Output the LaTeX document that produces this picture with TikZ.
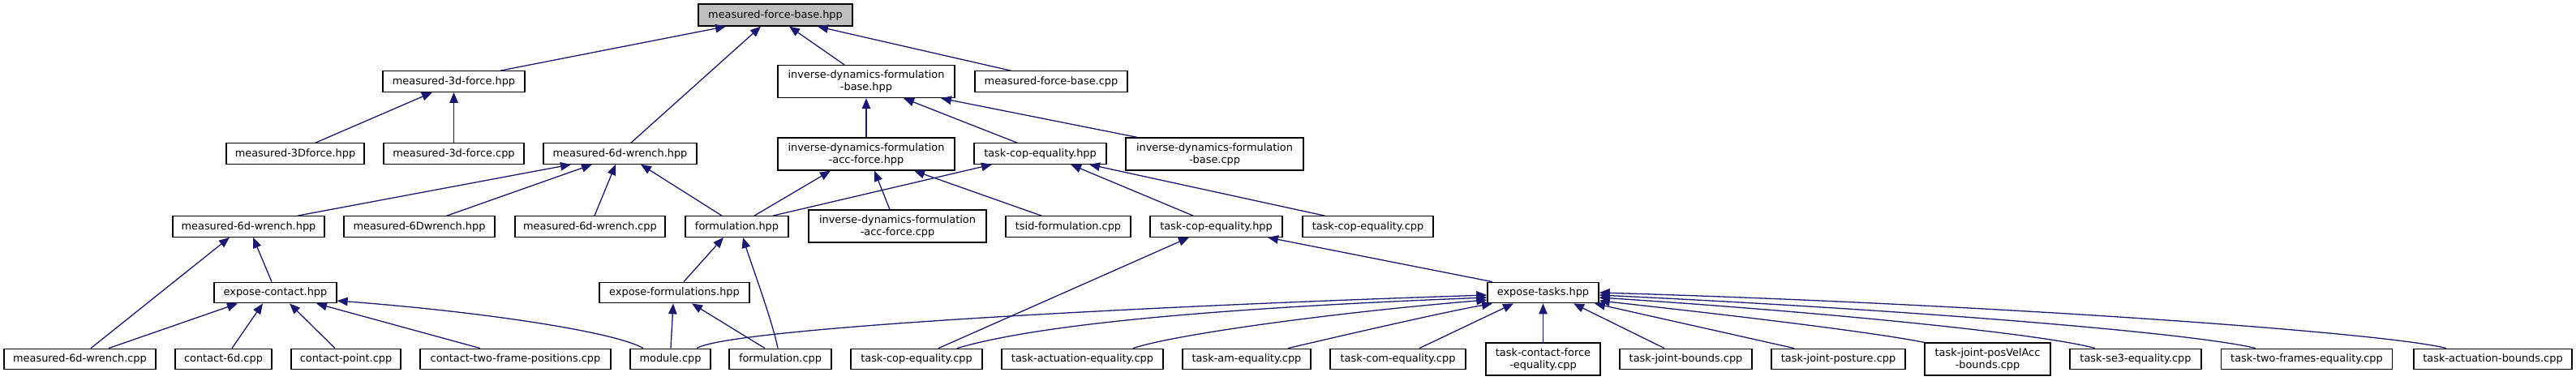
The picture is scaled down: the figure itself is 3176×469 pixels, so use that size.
\documentclass[tikz,border=0pt]{standalone}
\usepackage{fontspec}
\setmainfont{DejaVu Sans}
\usetikzlibrary{arrows.meta}
\definecolor{edgeblue}{HTML}{191970}
\definecolor{rootfill}{HTML}{BFBFBF}
\begin{document}
\begin{tikzpicture}[x=1pt,y=-1pt,
  filebox/.style={draw=black, line width=1.3pt, fill=white, rectangle, inner sep=0pt,
    align=center, minimum height=25.5pt, font=\fontsize{12.9}{15}\selectfont},
  twoline/.style={minimum height=40pt},
  rootbox/.style={filebox, fill=rootfill},
  edge/.style={draw=edgeblue, line width=1.3pt, -{Triangle[length=13pt,width=10.5pt]}}]
\useasboundingbox[fill=white] (0,0) rectangle (3176,469);
% row 1
\node[rootbox, minimum width=190pt, minimum height=27pt] (root) at (956,18.5) {measured-force-base.hpp};
% row 2
\node[filebox, minimum width=175pt] (m3fh) at (559.5,100.5) {measured-3d-force.hpp};
\node[filebox, twoline, minimum width=218pt] (idfbh) at (1068,100.5) {inverse-dynamics-formulation\\-base.hpp};
\node[filebox, minimum width=188pt] (mfbc) at (1296,100.5) {measured-force-base.cpp};
% row 3
\node[filebox, minimum width=170pt] (m3Dfh) at (364,189.5) {measured-3Dforce.hpp};
\node[filebox, minimum width=173pt] (m3fc) at (559.5,189.5) {measured-3d-force.cpp};
\node[filebox, minimum width=189pt] (m6wh) at (764.5,189.5) {measured-6d-wrench.hpp};
\node[filebox, twoline, minimum width=218pt] (idfah) at (1068,190) {inverse-dynamics-formulation\\-acc-force.hpp};
\node[filebox, minimum width=163pt] (tceh) at (1282.5,189.5) {task-cop-equality.hpp};
\node[filebox, twoline, minimum width=219pt] (idfbc) at (1497.5,190) {inverse-dynamics-formulation\\-base.cpp};
% row 4
\node[filebox, minimum width=187pt] (m6wh2) at (306.5,279.5) {measured-6d-wrench.hpp};
\node[filebox, minimum width=186pt] (m6Dwh) at (517,279.5) {measured-6Dwrench.hpp};
\node[filebox, minimum width=185pt] (m6wc) at (727.5,279.5) {measured-6d-wrench.cpp};
\node[filebox, minimum width=127pt] (formh) at (908.5,279.5) {formulation.hpp};
\node[filebox, twoline, minimum width=219pt] (idfac) at (1106.5,279) {inverse-dynamics-formulation\\-acc-force.cpp};
\node[filebox, minimum width=154pt] (tsidc) at (1317,279.5) {tsid-formulation.cpp};
\node[filebox, minimum width=163pt] (tceh2) at (1499.5,279.5) {task-cop-equality.hpp};
\node[filebox, minimum width=161pt] (tcec) at (1686.5,279.5) {task-cop-equality.cpp};
% row 5
\node[filebox, minimum width=151pt] (ech) at (339.5,361) {expose-contact.hpp};
\node[filebox, minimum width=185pt] (efh) at (831.5,361) {expose-formulations.hpp};
\node[filebox, minimum width=137pt] (eth) at (1902.5,361) {expose-tasks.hpp};
% row 6
\node[filebox, minimum width=187pt] (m6wc2) at (98.5,443) {measured-6d-wrench.cpp};
\node[filebox, minimum width=119pt] (c6d) at (275.5,443) {contact-6d.cpp};
\node[filebox, minimum width=135pt] (cpt) at (426.5,443) {contact-point.cpp};
\node[filebox, minimum width=235pt] (ctfp) at (635.5,443) {contact-two-frame-positions.cpp};
\node[filebox, minimum width=99pt] (mod) at (826.5,443) {module.cpp};
\node[filebox, minimum width=126pt] (formc) at (962,443) {formulation.cpp};
\node[filebox, minimum width=162pt] (tcec2) at (1130,443) {task-cop-equality.cpp};
\node[filebox, minimum width=199pt] (taec) at (1334.5,443) {task-actuation-equality.cpp};
\node[filebox, minimum width=158pt] (tamc) at (1537,443) {task-am-equality.cpp};
\node[filebox, minimum width=167pt] (tcomc) at (1723.5,443) {task-com-equality.cpp};
\node[filebox, twoline, minimum width=141pt] (tcfec) at (1902.5,443) {task-contact-force\\-equality.cpp};
\node[filebox, minimum width=163pt] (tjbc) at (2078.5,443) {task-joint-bounds.cpp};
\node[filebox, minimum width=165pt] (tjpc) at (2266.5,443) {task-joint-posture.cpp};
\node[filebox, twoline, minimum width=155pt] (tjpvac) at (2450.5,443) {task-joint-posVelAcc\\-bounds.cpp};
\node[filebox, minimum width=162pt] (tse3c) at (2633,443) {task-se3-equality.cpp};
\node[filebox, minimum width=211pt] (ttfec) at (2844,443) {task-two-frames-equality.cpp};
\node[filebox, minimum width=195pt] (tabc) at (3073.5,443) {task-actuation-bounds.cpp};
% edges into root
\draw[edge] ([xshift=57.5pt]m3fh.north) -- ([xshift=-61pt]root.south);
\draw[edge] ([xshift=13.5pt]m6wh.north) -- ([xshift=-18pt]root.south);
\draw[edge] ([xshift=-27pt]idfbh.north) -- ([xshift=17pt]root.south);
\draw[edge] ([xshift=-50pt]mfbc.north) -- ([xshift=52pt]root.south);
% into measured-3d-force.hpp
\draw[edge] ([xshift=25pt]m3Dfh.north) -- ([xshift=-26.5pt]m3fh.south);
\draw[edge] (m3fc.north) -- (m3fh.south);
% into idf-base.hpp
\draw[edge] (idfah.north) -- (idfbh.south);
\draw[edge] ([xshift=-28.5pt]tceh.north) -- ([xshift=46pt]idfbh.south);
\draw[edge] ([xshift=-95.5pt]idfbc.north) -- ([xshift=92pt]idfbh.south);
% into measured-6d-wrench.hpp (row 3)
\draw[edge] ([xshift=60.5pt]m6wh2.north) -- ([xshift=-60.5pt]m6wh.south);
\draw[edge] ([xshift=34pt]m6Dwh.north) -- ([xshift=-34.5pt]m6wh.south);
\draw[edge] ([xshift=5.5pt]m6wc.north) -- ([xshift=-5.5pt]m6wh.south);
\draw[edge] ([xshift=-18.5pt]formh.north) -- ([xshift=25.5pt]m6wh.south);
% into idf-acc-force.hpp
\draw[edge] ([xshift=21.5pt]formh.north) -- ([xshift=-44pt]idfah.south);
\draw[edge] ([xshift=-9.5pt]idfac.north) -- ([xshift=10pt]idfah.south);
\draw[edge] ([xshift=-33pt]tsidc.north) -- ([xshift=59pt]idfah.south);
% into task-cop-equality.hpp (row 3)
\draw[edge] ([xshift=44.5pt]formh.north) -- ([xshift=-59.5pt]tceh.south);
\draw[edge] ([xshift=-28.5pt]tceh2.north) -- ([xshift=37.5pt]tceh.south);
\draw[edge] ([xshift=-53.5pt]tcec.north) -- ([xshift=60.5pt]tceh.south);
% into measured-6d-wrench.hpp (row 4)
\draw[edge] ([xshift=-4.5pt]ech.north) -- ([xshift=5.5pt]m6wh2.south);
\draw[edge] ([xshift=13.5pt]m6wc2.north) -- ([xshift=-23.5pt]m6wh2.south);
% into formulation.hpp
\draw[edge] ([xshift=11.5pt]efh.north) -- ([xshift=-16.5pt]formh.south);
\draw[edge] ([xshift=-3pt]formc.north) .. controls (952,395) and (925,322) .. ([xshift=7.5pt]formh.south);
% into task-cop-equality.hpp (row 4)
\draw[edge] ([xshift=-62.5pt]eth.north) -- ([xshift=63.5pt]tceh2.south);
\draw[edge] ([xshift=27pt]tcec2.north) -- ([xshift=-33.5pt]tceh2.south);
% into expose-contact.hpp
\draw[edge] ([xshift=35.5pt]m6wc2.north) -- ([xshift=-46.5pt]ech.south);
\draw[edge] ([xshift=10.5pt]c6d.north) -- ([xshift=-15.5pt]ech.south);
\draw[edge] ([xshift=-13.5pt]cpt.north) -- ([xshift=17.5pt]ech.south);
\draw[edge] ([xshift=-43.5pt]ctfp.north) -- ([xshift=50.5pt]ech.south);
\draw[edge] ([xshift=-33.5pt]mod.north) .. controls (760,410) and (600,385) .. ([yshift=-10pt]ech.east);
% into expose-formulations.hpp
\draw[edge] ([xshift=0.5pt]mod.north) -- ([xshift=-1.5pt]efh.south);
\draw[edge] ([xshift=-19pt]formc.north) -- ([xshift=21.5pt]efh.south);
% into expose-tasks.hpp, from the left
\draw[edge] ([xshift=32.5pt]mod.north) .. controls (900,405) and (1400,378) .. ([yshift=-3pt]eth.west);
\draw[edge] ([xshift=50pt]tcec2.north) .. controls (1280,400) and (1500,380) .. ([yshift=-6pt]eth.west);
\draw[edge] ([xshift=62.5pt]taec.north) .. controls (1450,412) and (1650,385) .. ([yshift=-9pt]eth.west);
\draw[edge] ([xshift=51pt]tamc.north) .. controls (1650,415) and (1780,385) .. ([xshift=-62.5pt]eth.south);
\draw[edge] ([xshift=26.5pt]tcomc.north) -- ([xshift=-36.5pt]eth.south);
\draw[edge] (tcfec.north) -- (eth.south);
% into expose-tasks.hpp, from the right
\draw[edge] ([xshift=-26.5pt]tjbc.north) -- ([xshift=37.5pt]eth.south);
\draw[edge] ([xshift=-54.5pt]tjpc.north) -- ([xshift=63.5pt]eth.south);
\draw[edge] (tjpvac.north west) .. controls (2300,408) and (2100,385) .. ([yshift=-10pt]eth.east);
\draw[edge] ([xshift=-50pt]tse3c.north) .. controls (2520,412) and (2250,385) .. ([yshift=-6pt]eth.east);
\draw[edge] ([xshift=-63pt]ttfec.north) .. controls (2700,410) and (2350,382) .. ([yshift=-3pt]eth.east);
\draw[edge] ([xshift=-57.5pt]tabc.north) .. controls (2940,410) and (2450,375) .. (eth.east);
\end{tikzpicture}
\end{document}
